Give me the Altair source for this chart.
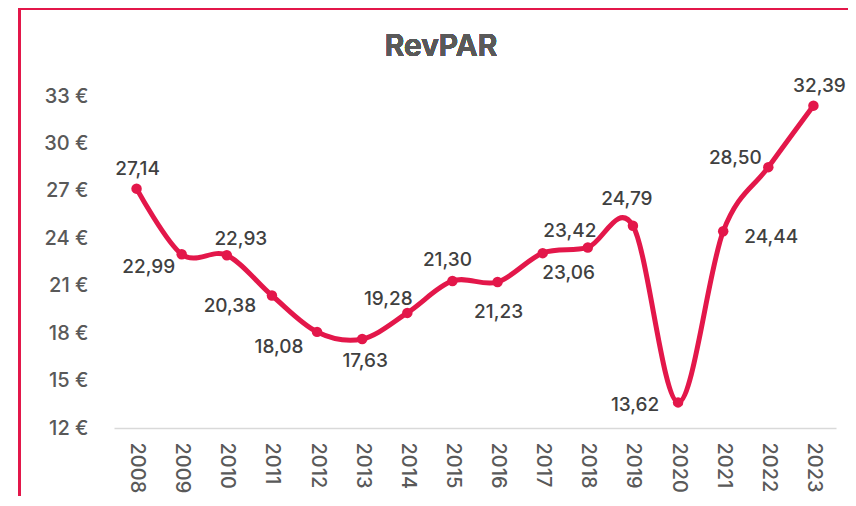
import altair as alt
import pandas as pd

years = [str(y) for y in range(2008, 2024)]
revpar = [27.14, 22.99, 22.93, 20.38, 18.08, 17.63, 19.28, 21.30,
          21.23, 23.06, 23.42, 24.79, 13.62, 24.44, 28.50, 32.39]
# where each data label sits relative to its point
placement = ["N0", "SW1", "NE2", "SW2", "SW3", "S1", "NW1", "N1",
             "S2", "SE", "NW2", "N2", "W", "E", "WNW", "NE3"]
offsets = {
    "N0": (1, -20), "SW1": (-33, 13), "NE2": (14, -16), "SW2": (-42, 10),
    "SW3": (-38, 15), "S1": (3, 22), "NW1": (-19, -14), "N1": (-5, -21),
    "S2": (1, 30), "SE": (26, 20), "NW2": (-18, -16), "N2": (-6, -27),
    "W": (-43, 3), "E": (48, 6), "WNW": (-33, -9), "NE3": (6, -20),
}
y_ticks = [12, 15, 18, 21, 24, 27, 30, 33]
title_text = "RevPAR"

RED = "#E3174A"
FONT = "Inter"

df = pd.DataFrame({
    "year": years,
    "value": revpar,
    "label": [f"{v:.2f}".replace(".", ",") for v in revpar],
    "pos": placement,
})

x_enc = alt.X("year:N", sort=years,
              scale=alt.Scale(type="point", padding=0.5),
              axis=alt.Axis(title=None, labelAngle=90, labelAlign="left",
                            labelBaseline="middle", labelPadding=14,
                            labelFontSize=20, labelFontWeight=500, labelColor="#595959",
                            labelFont=FONT, ticks=False, domainColor="#D9D9D9",
                            domainWidth=1.5, grid=False))
y_enc = alt.Y("value:Q",
              scale=alt.Scale(domain=[12, 33], nice=False, zero=False),
              axis=alt.Axis(title=None, values=y_ticks, labelExpr="datum.value + ' €'",
                            labelFontSize=20, labelFontWeight=500, labelColor="#595959",
                            labelFont=FONT, labelPadding=26, ticks=False, domain=False,
                            grid=False))

base = alt.Chart(df)

line = base.mark_line(color=RED, strokeWidth=5, interpolate="cardinal").encode(x=x_enc, y=y_enc)
points = base.mark_circle(color=RED, size=110, opacity=1).encode(x=x_enc, y=y_enc)

texts = []
for code, (dx, dy) in offsets.items():
    texts.append(
        base.transform_filter(alt.datum.pos == code)
        .mark_text(dx=dx, dy=dy, fontSize=19, fontWeight=500, font=FONT, color="#404040",
                   align="center", baseline="middle")
        .encode(x=x_enc, y=y_enc, text="label:N")
    )

border_top = base.mark_rule(color=RED, strokeWidth=3).encode(
    x=alt.value(-95), x2=alt.value(760), y=alt.value(-87.5))
border_left = base.mark_rule(color=RED, strokeWidth=3).encode(
    x=alt.value(-94.5), y=alt.value(-89), y2=alt.value(430))
title = base.mark_text(text=title_text, fontSize=30, fontWeight=600, color="#595959",
                       font=FONT, align="center", baseline="middle").encode(
    x=alt.value(327), y=alt.value(-49))

chart = alt.layer(border_top, border_left, title, line, points, *texts).properties(
    width=722, height=332,
    autosize=alt.AutoSizeParams(type="none"),
    padding={"left": 106, "top": 88, "right": 12, "bottom": 68},
).configure(background="white", view=alt.ViewConfig(strokeWidth=0))

chart.save("out.html", embed_options={"renderer": "svg", "actions": False})
